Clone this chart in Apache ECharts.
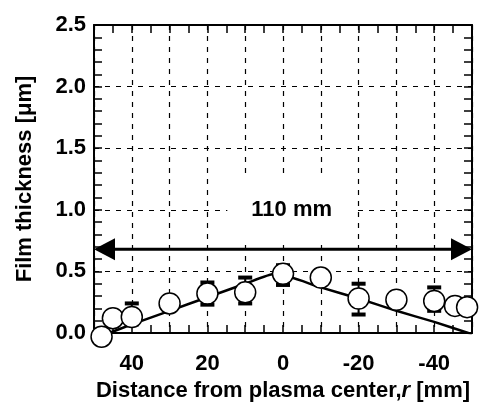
<!DOCTYPE html>
<html>
<head>
<meta charset="utf-8">
<script src="https://cdn.jsdelivr.net/npm/echarts@6/dist/echarts.min.js"></script>
<style>
  html, body { margin: 0; padding: 0; background: #fff; }
  #chart { width: 483px; height: 410px; }
</style>
</head>
<body>
<div id="chart"></div>
<script>
// measured points: [r (mm), thickness (um)]
const points = [
  [48, -0.03], [45, 0.12], [40, 0.13], [30, 0.24], [20, 0.32], [10, 0.33],
  [0, 0.48], [-10, 0.45], [-20, 0.28], [-30, 0.27], [-40, 0.26], [-45.5, 0.22], [-48.7, 0.21]
]
// error bars: [r, low, high]
const errors = [
  [40, 0.07, 0.24], [20, 0.23, 0.41], [10, 0.24, 0.45], [0, 0.39, 0.55],
  [-20, 0.15, 0.40], [-40, 0.18, 0.37]
]
// fitted curve
const fit = [
  [46, 0.0], [40, 0.07], [30, 0.18], [20, 0.29], [10, 0.40], [2, 0.48],
  [-10, 0.37], [-20, 0.28], [-30, 0.18], [-40, 0.09], [-50, -0.01]
]
// double arrow: [r from, r to, thickness level]
const arrow = [[50, -50, 0.68]]
const note = [{ name: '110 mm', value: [-2.3, 1.0] }]

const font = '"Liberation Sans", Arial, sans-serif'
const myChart = echarts.init(document.getElementById('chart'))

const gridLine = { show: true, lineStyle: { color: '#000', type: [5, 6], width: 1.2 } }
const frame = { show: true, onZero: false, lineStyle: { color: '#000', width: 2 } }

const option = {
  animation: false,
  grid: { left: 94, right: 11, top: 25, bottom: 77 },
  xAxis: [
    {
      type: 'value', min: -50, max: 50, interval: 10, inverse: true,
      axisLine: frame,
      axisTick: { show: true, inside: true, length: 8, lineStyle: { color: '#000', width: 1.5 } },
      minorTick: { show: true, splitNumber: 2, length: 8, lineStyle: { color: '#000', width: 1.5 } },
      splitLine: gridLine,
      axisLabel: {
        margin: 20, color: '#000', fontFamily: font, fontWeight: 'bold', fontSize: 22,
        formatter: v => (v % 20 === 0 && Math.abs(v) <= 40) ? String(v) : ''
      },
      name: 'Distance from plasma center,{i|r} [mm]',
      nameLocation: 'middle', nameGap: 44,
      nameTextStyle: {
        color: '#000', fontFamily: font, fontWeight: 'bold', fontSize: 22,
        rich: { i: { fontStyle: 'italic', fontWeight: 'bold', fontFamily: font, fontSize: 22, color: '#000' } }
      }
    },
    {
      type: 'value', min: -50, max: 50, interval: 10, inverse: true, position: 'top',
      axisLine: frame,
      axisTick: { show: true, inside: true, length: 8, lineStyle: { color: '#000', width: 1.5 } },
      minorTick: { show: true, splitNumber: 2, length: 8, lineStyle: { color: '#000', width: 1.5 } },
      splitLine: { show: false }, axisLabel: { show: false }
    }
  ],
  yAxis: [
    {
      type: 'value', min: 0, max: 2.5, interval: 0.5,
      axisLine: frame,
      axisTick: { show: true, inside: true, length: 8, lineStyle: { color: '#000', width: 1.5 } },
      minorTick: { show: true, splitNumber: 5, length: 8, lineStyle: { color: '#000', width: 1.5 } },
      splitLine: gridLine,
      axisLabel: {
        margin: 8, color: '#000', fontFamily: font, fontWeight: 'bold', fontSize: 22,
        formatter: v => v.toFixed(1)
      },
      name: 'Film thickness [\u03bcm]',
      nameLocation: 'middle', nameGap: 58,
      nameTextStyle: { color: '#000', fontFamily: font, fontWeight: 'bold', fontSize: 22 }
    },
    {
      type: 'value', min: 0, max: 2.5, interval: 0.5, position: 'right',
      axisLine: frame,
      axisTick: { show: true, inside: true, length: 8, lineStyle: { color: '#000', width: 1.5 } },
      minorTick: { show: true, splitNumber: 5, length: 8, lineStyle: { color: '#000', width: 1.5 } },
      splitLine: { show: false }, axisLabel: { show: false }
    }
  ],
  series: [
    {
      type: 'scatter',
      data: note,
      symbolSize: 0,
      z: 3,
      itemStyle: { opacity: 1 },
      label: {
        show: true, position: 'inside', formatter: '{b}',
        color: '#000', fontFamily: font, fontWeight: 'bold', fontSize: 22,
        backgroundColor: '#fff', padding: [24, 24]
      }
    },
    {
      type: 'custom',
      data: arrow,
      z: 4,
      renderItem: (params, api) => {
        const a = api.coord([api.value(0), api.value(2)])
        const b = api.coord([api.value(1), api.value(2)])
        const x1 = Math.min(a[0], b[0]), x2 = Math.max(a[0], b[0]), y = a[1]
        const L = 21, H = 11
        const st = { fill: '#000' }
        return {
          type: 'group',
          children: [
            { type: 'line', shape: { x1: x1 + L, y1: y, x2: x2 - L, y2: y }, style: { stroke: '#000', lineWidth: 3 } },
            { type: 'polygon', shape: { points: [[x1, y], [x1 + L, y - H], [x1 + L, y + H]] }, style: st },
            { type: 'polygon', shape: { points: [[x2, y], [x2 - L, y - H], [x2 - L, y + H]] }, style: st }
          ]
        }
      }
    },
    {
      type: 'custom',
      data: errors,
      z: 5,
      renderItem: (params, api) => {
        const lo = api.coord([api.value(0), api.value(1)])
        const hi = api.coord([api.value(0), api.value(2)])
        const w = 7, t = 4
        return {
          type: 'group',
          children: [
            { type: 'line', shape: { x1: lo[0], y1: lo[1], x2: hi[0], y2: hi[1] }, style: { stroke: '#000', lineWidth: 2 } },
            { type: 'rect', shape: { x: hi[0] - w, y: hi[1] - t / 2, width: 2 * w, height: t }, style: { fill: '#000' } },
            { type: 'rect', shape: { x: lo[0] - w, y: lo[1] - t / 2, width: 2 * w, height: t }, style: { fill: '#000' } }
          ]
        }
      }
    },
    {
      type: 'line',
      data: fit,
      smooth: 0.2,
      showSymbol: false,
      z: 6,
      lineStyle: { color: '#000', width: 2.5 }
    },
    {
      type: 'scatter',
      data: points,
      symbol: 'circle',
      symbolSize: 21,
      clip: false,
      z: 7,
      itemStyle: { color: '#fff', borderColor: '#000', borderWidth: 1.5, opacity: 1 }
    }
  ]
}

myChart.setOption(option)
</script>
</body>
</html>
